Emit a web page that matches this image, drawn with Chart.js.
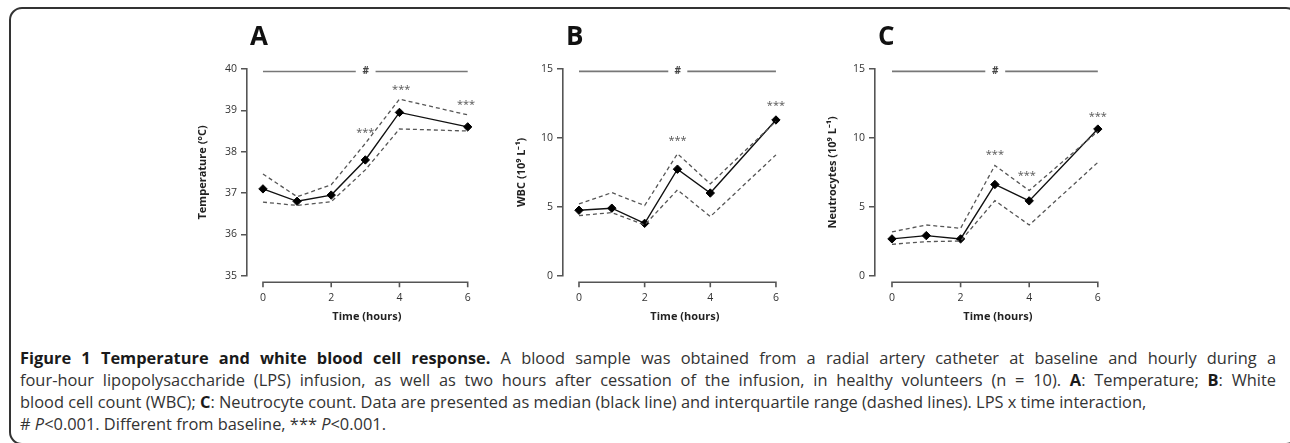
<!DOCTYPE html>
<html>
<head>
<meta charset="utf-8">
<script src="https://cdn.jsdelivr.net/npm/chart.js@4.4.1/dist/chart.umd.min.js"></script>
<style>
html, body { margin: 0; padding: 0; background: #fff; }
body { width: 1290px; height: 443px; position: relative; overflow: hidden; font-family: "Open Sans", sans-serif; }
.frame { position: absolute; left: 9px; top: 7px; width: 1290px; height: 438px; border: 2px solid #333; border-radius: 13px; box-sizing: border-box; }
canvas { position: absolute; top: 20px; }
.caption { position: absolute; left: 20px; top: 347px; width: 1256px; font-size: 16.4px; line-height: 22px; color: #333; }
.caption b { color: #1a1a1a; }
.just { text-align: justify; text-align-last: justify; }
</style>
</head>
<body>
<div class="frame"></div>
<canvas id="chartA" width="352" height="310" style="left:140px"></canvas>
<canvas id="chartB" width="317" height="310" style="left:495px"></canvas>
<canvas id="chartC" width="311" height="310" style="left:815px"></canvas>
<div class="caption">
  <div class="just"><b>Figure 1 Temperature and white blood cell response.</b> A blood sample was obtained from a radial artery catheter at baseline and hourly during a</div>
  <div class="just">four-hour lipopolysaccharide (LPS) infusion, as well as two hours after cessation of the infusion, in healthy volunteers (n = 10). <b>A</b>: Temperature; <b>B</b>: White</div>
  <div>blood cell count (WBC); <b>C</b>: Neutrocyte count. Data are presented as median (black line) and interquartile range (dashed lines). LPS x time interaction,</div>
  <div># <i>P</i>&lt;0.001. Different from baseline, *** <i>P</i>&lt;0.001.</div>
</div>
<script>
// sampling times (hours) and axis ticks
const hours = [0, 1, 2, 3, 4, 6];
const xTicks = [0, 2, 4, 6];
const tempTicks = [35, 36, 37, 38, 39, 40];
const countTicks = [0, 5, 10, 15];

// A: temperature (median + interquartile range)
const tempMedian = [37.1, 36.8, 36.95, 37.8, 38.95, 38.6];
const tempQ1 = [36.78, 36.7, 36.79, 37.56, 38.55, 38.5];
const tempQ3 = [37.46, 36.91, 37.2, 38.2, 39.27, 38.89];

// B: white blood cell count
const wbcMedian = [4.75, 4.9, 3.8, 7.73, 6.0, 11.3];
const wbcQ1 = [4.36, 4.58, 3.68, 6.23, 4.29, 8.77];
const wbcQ3 = [5.21, 6.03, 5.09, 8.85, 6.66, 11.2];

// C: neutrocytes
const neutMedian = [2.67, 2.91, 2.67, 6.62, 5.43, 10.64];
const neutQ1 = [2.28, 2.47, 2.52, 5.45, 3.68, 8.22];
const neutQ3 = [3.18, 3.68, 3.44, 8.0, 6.18, 10.47];

// "#" interaction bar (split around the symbol) and "***" markers
const hashX = [0, 2.72, 3.3, 6];
const tempHashY = 39.94;
const countHashY = 14.83;
const tempSigX = [3, 4.05, 5.95];
const tempSigY = [38.5, 39.54, 39.18];
const wbcSigX = [3, 6];
const wbcSigY = [9.91, 12.48];
const neutSigX = [3, 3.93, 6];
const neutSigY = [8.9, 7.37, 11.68];

const FONT = '"Open Sans", sans-serif';

function pts(values) {
    return hours.map((h, i) => ({x: h, y: values[i]}));
}

function hashLine(y) {
    return [
        {x: hashX[0], y: y},
        {x: hashX[1], y: y},
        {x: (hashX[1] + hashX[2]) / 2, y: null},
        {x: hashX[2], y: y},
        {x: hashX[3], y: y}
    ];
}

/**
 * draws the detached x axis, the "#" and "***" labels and the panel letter
 */
const decor = {
    id: 'decor',
    afterDraw(chart, args, opts) {
        const {ctx, chartArea} = chart;
        const xs = chart.scales.x;
        const ys = chart.scales.y;
        ctx.save();

        const ay = chartArea.bottom + 6.5;
        ctx.strokeStyle = '#555';
        ctx.lineWidth = 1.6;
        ctx.beginPath();
        ctx.moveTo(xs.getPixelForValue(xTicks[0]), ay);
        ctx.lineTo(xs.getPixelForValue(xTicks[xTicks.length - 1]), ay);
        xTicks.forEach(v => {
            const px = xs.getPixelForValue(v);
            ctx.moveTo(px, ay - 0.8);
            ctx.lineTo(px, ay + 5);
        });
        ctx.stroke();

        ctx.textAlign = 'center';
        ctx.textBaseline = 'middle';
        ctx.fillStyle = '#444';
        ctx.font = 'bold 10px ' + FONT;
        ctx.fillText('#', xs.getPixelForValue((hashX[1] + hashX[2]) / 2), ys.getPixelForValue(opts.hashY));

        ctx.fillStyle = '#555';
        ctx.font = '11px ' + FONT;
        opts.sigX.forEach((v, i) => {
            ctx.fillText('***', xs.getPixelForValue(v), ys.getPixelForValue(opts.sigY[i]) + 2);
        });

        ctx.textAlign = 'left';
        ctx.textBaseline = 'alphabetic';
        ctx.fillStyle = '#111';
        ctx.font = 'bold 26px ' + FONT;
        ctx.fillText(opts.letter, chartArea.left + 3, 25);
        ctx.restore();
    }
};

function panel(id, cfg) {
    const tickFont = {size: 10.5, family: FONT};
    const titleFont = {size: 11, family: FONT, weight: 'bold'};
    return new Chart(document.getElementById(id), {
        type: 'line',
        data: {
            datasets: [
                {data: pts(cfg.q3), borderColor: '#555', borderWidth: 1.3, borderDash: [4, 3], pointRadius: 0},
                {data: pts(cfg.q1), borderColor: '#555', borderWidth: 1.3, borderDash: [4, 3], pointRadius: 0},
                {data: hashLine(cfg.hashY), borderColor: '#777', borderWidth: 1.6, pointRadius: 0, spanGaps: false},
                {
                    data: pts(cfg.median), borderColor: '#111', borderWidth: 1.4,
                    pointStyle: 'rectRot', pointRadius: 4.2,
                    pointBackgroundColor: '#000', pointBorderColor: '#000', pointBorderWidth: 1
                }
            ]
        },
        options: {
            responsive: false,
            animation: false,
            events: [],
            layout: {padding: {top: 49, right: cfg.padRight, left: 0, bottom: 0}},
            plugins: {
                legend: {display: false},
                tooltip: {enabled: false},
                decor: {letter: cfg.letter, hashY: cfg.hashY, sigX: cfg.sigX, sigY: cfg.sigY}
            },
            scales: {
                x: {
                    type: 'linear',
                    min: cfg.xMin,
                    max: cfg.xMax,
                    afterBuildTicks: s => { s.ticks = xTicks.map(v => ({value: v})); },
                    afterFit: s => { s.height = 54.3; },
                    grid: {display: false, drawTicks: false},
                    border: {display: false},
                    ticks: {padding: 16, color: '#333', font: tickFont, maxRotation: 0},
                    title: {display: true, text: 'Time (hours)', color: '#222', font: titleFont, padding: {top: 0, bottom: 7}}
                },
                y: {
                    min: cfg.yTicks[0],
                    max: cfg.yTicks[cfg.yTicks.length - 1],
                    afterBuildTicks: s => { s.ticks = cfg.yTicks.map(v => ({value: v})); },
                    afterFit: s => { s.width = cfg.yWidth; },
                    grid: {display: true, drawOnChartArea: false, drawTicks: true, tickLength: 6, color: '#555', lineWidth: 1.5},
                    border: {display: true, color: '#555', width: 1.6},
                    ticks: {padding: 4, color: '#333', font: tickFont},
                    title: {display: true, text: cfg.yTitle, color: '#222', font: titleFont, padding: {top: cfg.titlePad, bottom: 0}}
                }
            }
        },
        plugins: [decor]
    });
}

panel('chartA', {
    letter: 'A', median: tempMedian, q1: tempQ1, q3: tempQ3,
    yTicks: tempTicks, yTitle: 'Temperature (°C)',
    hashY: tempHashY, sigX: tempSigX, sigY: tempSigY,
    xMin: -0.468, xMax: 6.56, yWidth: 107, titlePad: 56, padRight: 5
});
panel('chartB', {
    letter: 'B', median: wbcMedian, q1: wbcQ1, q3: wbcQ3,
    yTicks: countTicks, yTitle: 'WBC (10⁹ L⁻¹)',
    hashY: countHashY, sigX: wbcSigX, sigY: wbcSigY,
    xMin: -0.487, xMax: 6.94, yWidth: 68, titlePad: 20, padRight: 5
});
panel('chartC', {
    letter: 'C', median: neutMedian, q1: neutQ1, q3: neutQ3,
    yTicks: countTicks, yTitle: 'Neutrocytes (10⁹ L⁻¹)',
    hashY: countHashY, sigX: neutSigX, sigY: neutSigY,
    xMin: -0.495, xMax: 6.67, yWidth: 60, titlePad: 11, padRight: 5
});
</script>
</body>
</html>
